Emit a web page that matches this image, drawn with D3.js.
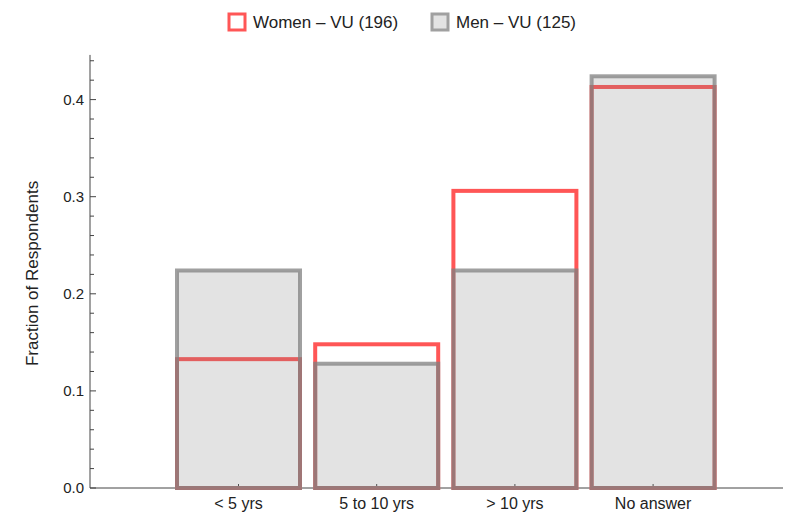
<!DOCTYPE html>
<html><head><meta charset="utf-8">
<script src="https://cdn.jsdelivr.net/npm/d3@7"></script>
<style>body{margin:0;background:#fff}text{font-family:"Liberation Sans",Arial,sans-serif}</style>
</head><body><svg id="c" width="785" height="523"></svg>
<script>
const categories = ["< 5 yrs", "5 to 10 yrs", "> 10 yrs", "No answer"];
const women = [0.1327, 0.148, 0.306, 0.413];
const men = [0.224, 0.128, 0.224, 0.424];
const seriesNames = ["Women \u2013 VU (196)", "Men \u2013 VU (125)"];
const yMajorTicks = [0, 0.1, 0.2, 0.3, 0.4];
const yMinorTicks = [0.02,0.04,0.06,0.08,0.12,0.14,0.16,0.18,0.22,0.24,0.26,0.28,0.32,0.34,0.36,0.38,0.42,0.44];
const yLabel = "Fraction of Respondents";

const svg = d3.select("#c");
const x0 = 90, xEnd = 783, yBase = 488;
const y = d3.scaleLinear().domain([0, 0.446]).range([yBase, yBase - 0.446 * 971]);
const x = d3.scaleBand().domain(categories).range([169.4, 722.2]).paddingInner(0.11).paddingOuter(0.055);

const axisColor = "#444";
svg.append("line").attr("x1", x0).attr("x2", xEnd).attr("y1", yBase).attr("y2", yBase).attr("stroke", axisColor).attr("stroke-width", 1);
svg.append("line").attr("x1", x0).attr("x2", x0).attr("y1", y(0.446)).attr("y2", yBase).attr("stroke", axisColor).attr("stroke-width", 1);

const yg = svg.append("g");
yg.selectAll(".maj").data(yMajorTicks).join("line")
  .attr("x1", x0).attr("x2", x0 + 6).attr("y1", d => y(d)).attr("y2", d => y(d)).attr("stroke", axisColor);
yg.selectAll(".min").data(yMinorTicks).join("line").attr("class","min")
  .attr("x1", x0).attr("x2", x0 + 4).attr("y1", d => y(d)).attr("y2", d => y(d)).attr("stroke", axisColor);
yg.selectAll("text").data(yMajorTicks).join("text")
  .attr("x", x0 - 6).attr("y", d => y(d)).attr("dy", "0.35em").attr("text-anchor", "end")
  .attr("font-size", 15).attr("fill", "#222").text(d => d3.format(".1f")(d));

svg.append("text").attr("transform", `translate(38,${(y(0) + y(0.446)) / 2 + 2}) rotate(-90)`)
  .attr("text-anchor", "middle").attr("font-size", 17).attr("fill", "#222").text(yLabel);

const xg = svg.append("g");
xg.selectAll("line").data(categories).join("line")
  .attr("x1", d => x(d) + x.bandwidth() / 2).attr("x2", d => x(d) + x.bandwidth() / 2)
  .attr("y1", yBase).attr("y2", yBase - 4).attr("stroke", axisColor);
xg.selectAll("text").data(categories).join("text")
  .attr("x", d => x(d) + x.bandwidth() / 2).attr("y", yBase + 21).attr("text-anchor", "middle")
  .attr("font-size", 16).attr("fill", "#222").text(d => d);

const red = "#ff5656";
svg.append("g").selectAll("rect").data(women).join("rect")
  .attr("x", (d, i) => x(categories[i])).attr("width", x.bandwidth())
  .attr("y", d => y(d)).attr("height", d => y(0) - y(d))
  .attr("fill", "none").attr("stroke", red).attr("stroke-width", 4);
svg.append("g").selectAll("rect").data(men).join("rect")
  .attr("x", (d, i) => x(categories[i])).attr("width", x.bandwidth())
  .attr("y", d => y(d)).attr("height", d => y(0) - y(d))
  .attr("fill", "rgba(128,128,128,0.22)").attr("stroke", "rgba(128,128,128,0.75)").attr("stroke-width", 4);

const lg = svg.append("g");
lg.append("rect").attr("x", 229).attr("y", 14).attr("width", 16).attr("height", 16).attr("fill", "#fff").attr("stroke", red).attr("stroke-width", 3);
lg.append("text").attr("x", 253).attr("y", 28).attr("font-size", 17).attr("fill", "#222").text(seriesNames[0]);
lg.append("rect").attr("x", 432).attr("y", 14).attr("width", 16).attr("height", 16).attr("fill", "#e3e3e3").attr("stroke", "#a0a0a0").attr("stroke-width", 3);
lg.append("text").attr("x", 456).attr("y", 28).attr("font-size", 17).attr("fill", "#222").text(seriesNames[1]);
</script></body></html>
